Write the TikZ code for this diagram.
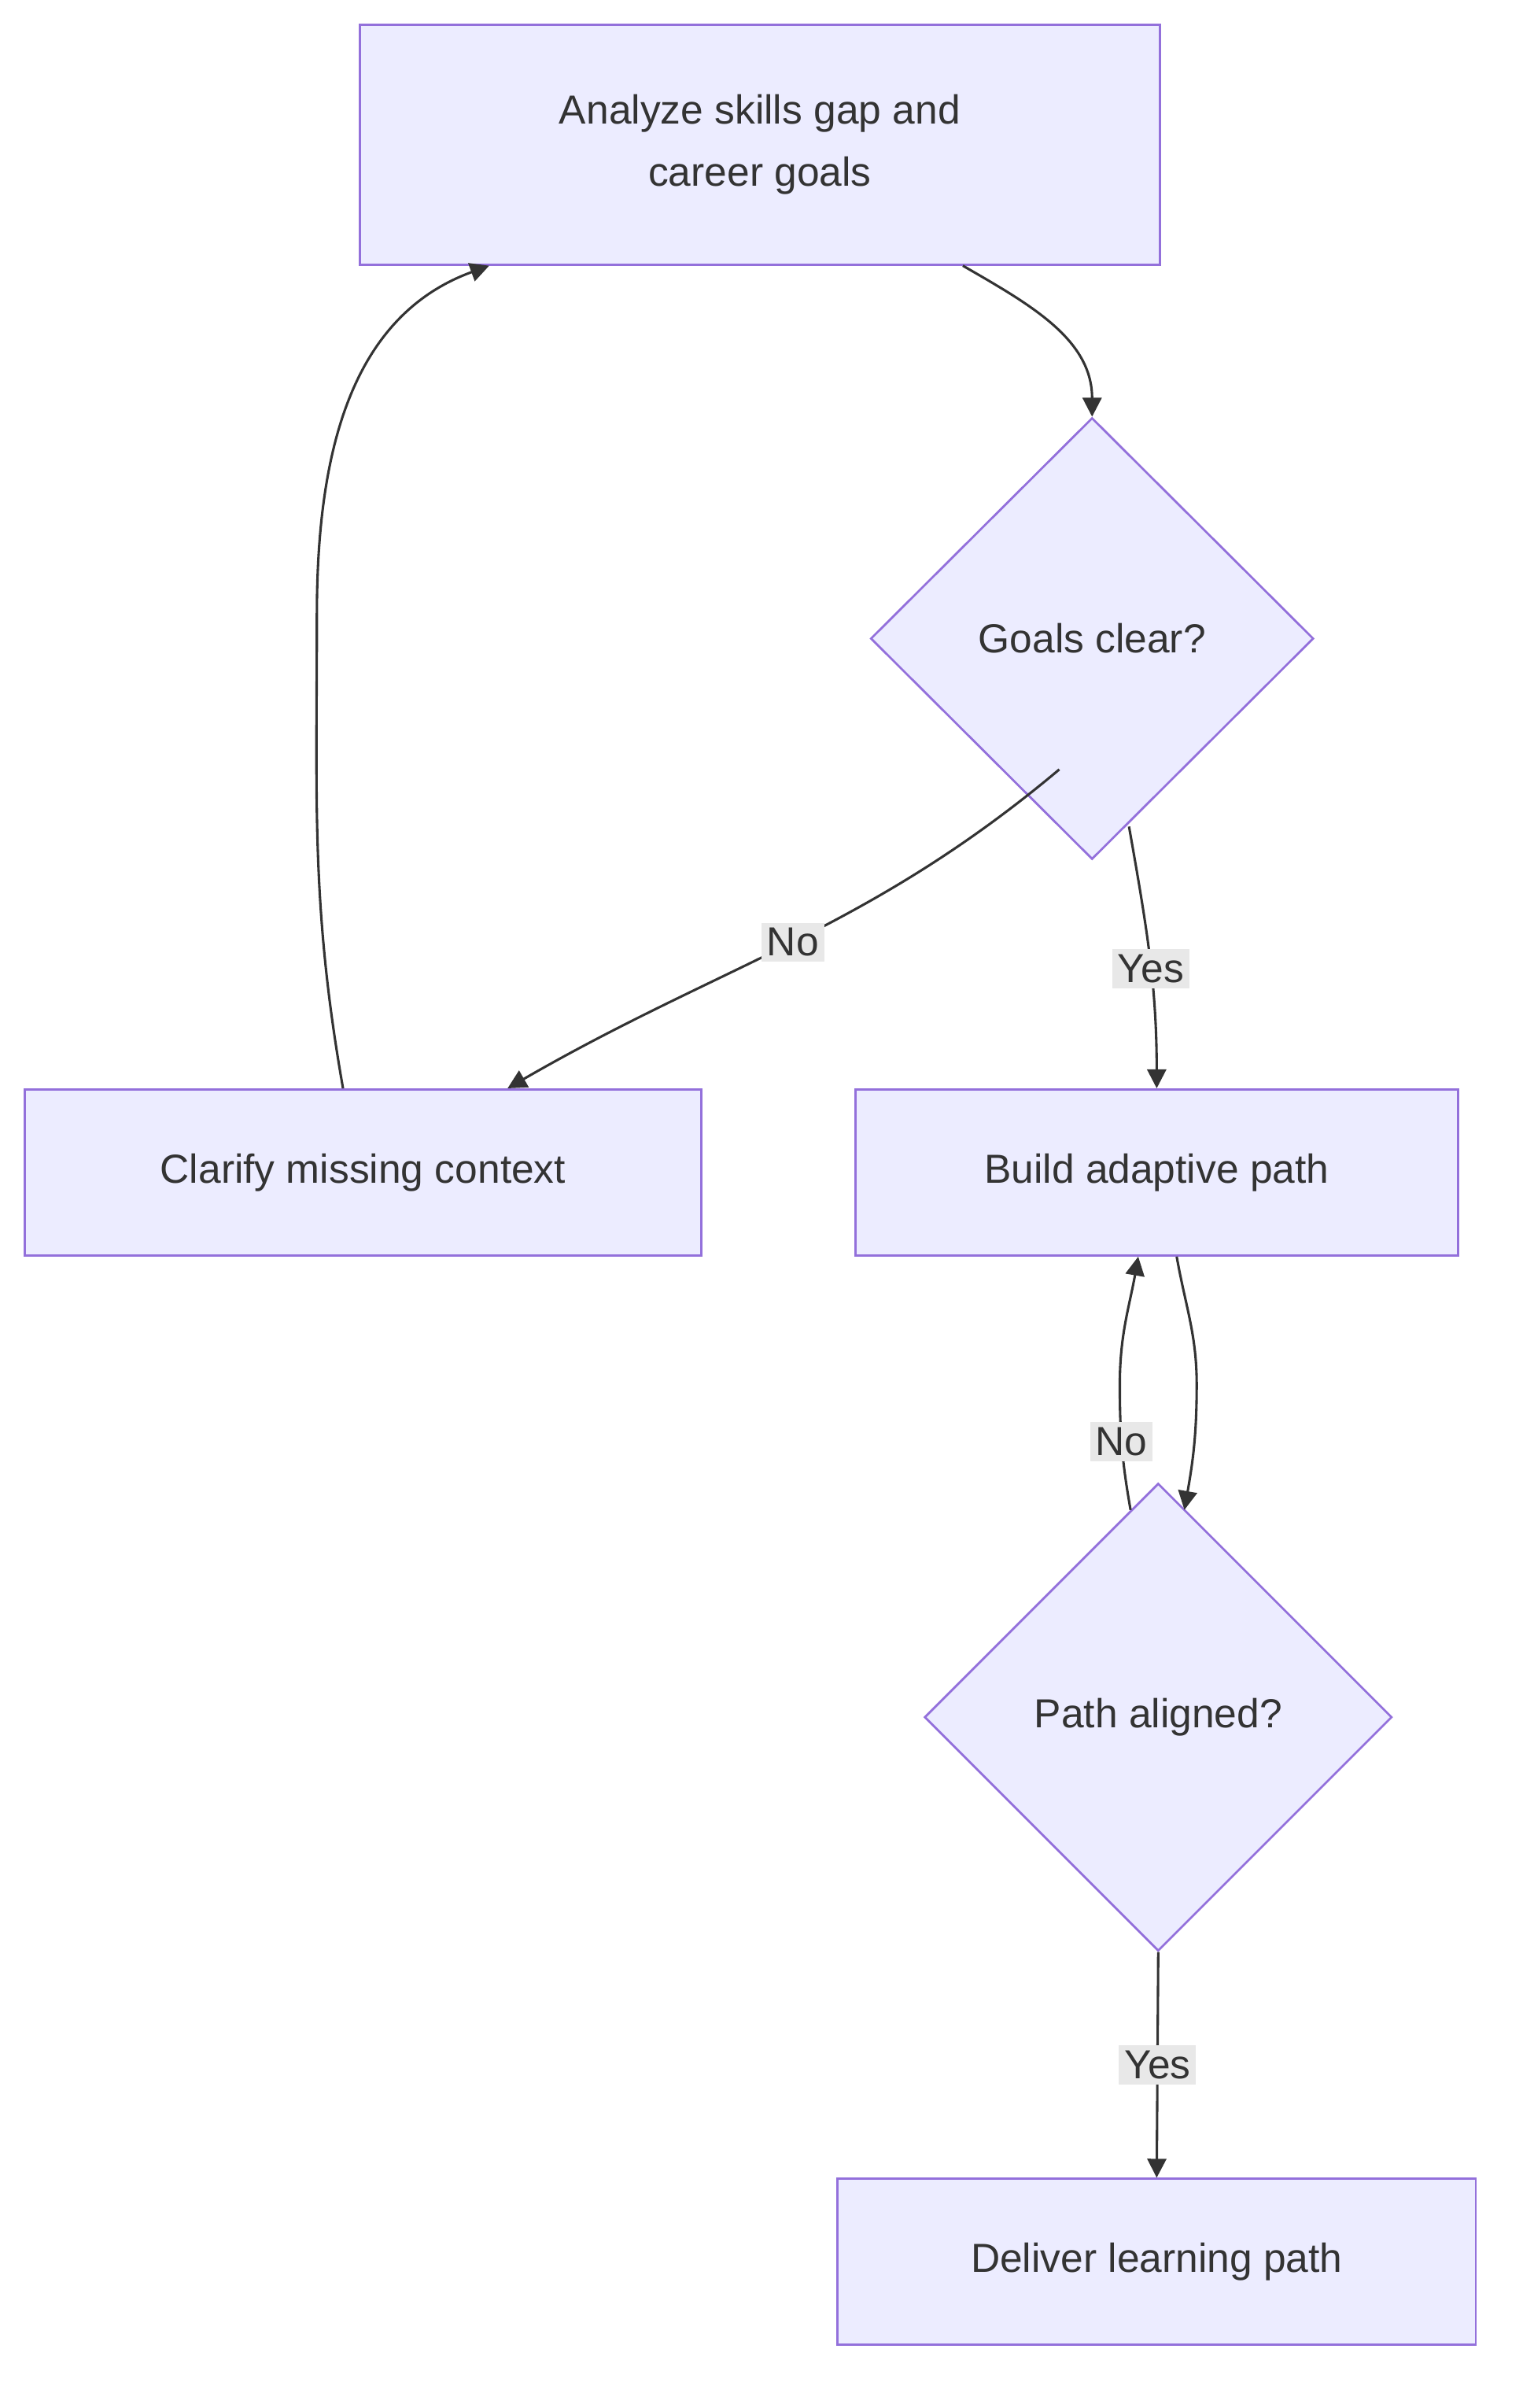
\documentclass[tikz,border=0pt]{standalone}
\usepackage{fontspec}
\setmainfont{Liberation Sans}
\usetikzlibrary{shapes.geometric,arrows.meta}
\definecolor{boxfill}{HTML}{ECECFF}
\definecolor{boxline}{HTML}{9370DB}
\definecolor{edgeline}{HTML}{333333}
\definecolor{labelbg}{HTML}{E8E8E8}
\begin{document}
\begin{tikzpicture}[x=0.02cm,y=-0.02cm,
    task/.style={draw=boxline,fill=boxfill,line width=0.8pt,font=\fontsize{15}{23}\selectfont,text=edgeline,align=center,inner sep=0pt},
    check/.style={task,diamond},
    flow/.style={draw=edgeline,line width=0.9pt,-{Triangle[length=7pt,width=7pt]}},
    tag/.style={fill=labelbg,font=\fontsize{15}{18}\selectfont,text=edgeline,inner sep=2pt}]
    \useasboundingbox (0,0) rectangle (990,1565);

    \node[task,minimum width=10.4cm,minimum height=3.12cm] (analyze) at (494,94) {Analyze skills gap and\\career goals};
    \node[check,minimum width=5.76cm,minimum height=5.74cm] (clear) at (710,415) {Goals clear?};
    \node[task,minimum width=8.8cm,minimum height=2.16cm] (clarify) at (236,762) {Clarify missing context};
    \node[task,minimum width=7.84cm,minimum height=2.16cm] (build) at (752,762) {Build adaptive path};
    \node[check,minimum width=6.08cm,minimum height=6.08cm] (aligned) at (753,1116) {Path aligned?};
    \node[task,minimum width=8.3cm,minimum height=2.16cm] (deliver) at (752,1470) {Deliver learning path};

    % main flow
    \draw[flow] ([xshift=2.64cm]analyze.south) to[out=-30,in=90] (clear.north);
    \draw[flow] (clear.south west) ++(1.02cm,-0.26cm) to[out=-140,in=30]
        node[tag,pos=0.5]{No} ([xshift=1.88cm]clarify.north);
    \draw[flow] ([xshift=0.48cm,yshift=0.44cm]clear.south) to[out=-80,in=90]
        node[tag,pos=0.55]{Yes} (build.north);
    \draw[flow] ([xshift=-0.26cm]clarify.north) to[out=100,in=-90] (206,400)
        to[out=90,in=200] ([xshift=-3.52cm]analyze.south);
    \draw[flow] ([xshift=0.26cm]build.south) to[out=-80,in=90] (778,900) to[out=-90,in=80] ([xshift=0.34cm,yshift=-0.36cm]aligned.north);
    \draw[flow] ([xshift=-0.36cm,yshift=-0.36cm]aligned.north) to[out=100,in=-90]
        node[tag,pos=0.55]{No} (728,900) to[out=90,in=-100] ([xshift=-0.24cm]build.south);
    \draw[flow] (aligned.south) -- node[tag]{Yes} (deliver.north);
\end{tikzpicture}
\end{document}
